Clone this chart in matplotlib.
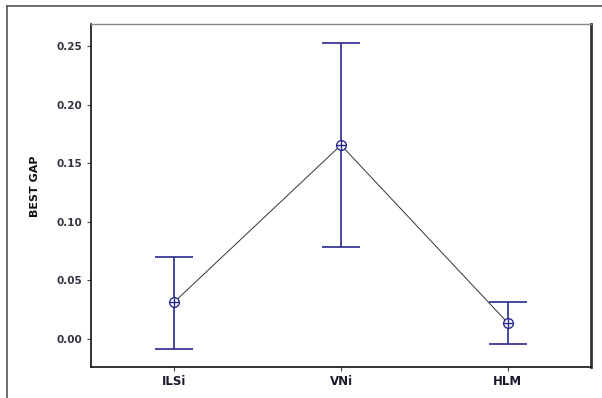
import matplotlib.pyplot as plt
from matplotlib.lines import Line2D
import numpy as np

# data
methods = ['ILSi', 'VNi', 'HLM']
means = [0.0316, 0.1655, 0.0139]
lower = [-0.0088, 0.0785, -0.0043]
upper = [0.0702, 0.2528, 0.0313]

navy = '#2a2a8e'

fig = plt.figure(figsize=(6.02, 3.98), dpi=100)
ax = fig.add_axes([91 / 602, 1 - 367 / 398, 500 / 602, 343 / 398])

x = np.arange(len(methods))
m = np.array(means)
err = [m - np.array(lower), np.array(upper) - m]

# connecting line
ax.plot(x, m, color='#333333', linewidth=0.7, zorder=2)
# interval bars
ax.errorbar(x, m, yerr=err, fmt='none', ecolor=navy, elinewidth=1.2,
            capsize=13.5, capthick=1.2, zorder=3)
# circle-plus markers
ax.plot(x, m, 'o', markersize=7, markerfacecolor='white',
        markeredgecolor=navy, markeredgewidth=1.0, zorder=4)
ax.plot(x, m, '+', markersize=7, color=navy, markeredgewidth=1.0, zorder=5)

ax.set_xlim(-0.5, 2.5)
ax.set_ylim(-0.0239, 0.2688)
ax.set_xticks(x)
ax.set_xticklabels(methods)
ax.set_yticks([0.0, 0.05, 0.10, 0.15, 0.20, 0.25])
ax.set_yticklabels(['0.00', '0.05', '0.10', '0.15', '0.20', '0.25'])

for lbl in ax.get_xticklabels():
    lbl.set_fontweight('bold')
    lbl.set_fontsize(8.5)
for lbl in ax.get_yticklabels():
    lbl.set_fontweight('bold')
    lbl.set_fontsize(7.5)

ax.tick_params(axis='both', direction='out', length=3, width=0.8,
               colors='#444444', pad=3)
ax.tick_params(axis='x', labelcolor='#1a1a2e')
ax.tick_params(axis='y', labelcolor='#333340')

# y axis title
fig.text(35 / 602, 1 - 186 / 398, 'BEST GAP', rotation=90, fontsize=8,
         fontweight='bold', color='#111111', ha='center', va='center')

ax.spines['left'].set_color('#111111')
ax.spines['left'].set_linewidth(1.2)
ax.spines['bottom'].set_color('#111111')
ax.spines['bottom'].set_linewidth(1.2)
ax.spines['top'].set_color('#888888')
ax.spines['top'].set_linewidth(1.0)
ax.spines['right'].set_color('#333333')
ax.spines['right'].set_linewidth(2.0)

# outer frame (top and left edges)
fig.add_artist(Line2D([7 / 602, 1.0], [1 - 6 / 398, 1 - 6 / 398],
                      transform=fig.transFigure, color='#555555', linewidth=1.2))
fig.add_artist(Line2D([7 / 602, 7 / 602], [0.0, 1 - 6 / 398],
                      transform=fig.transFigure, color='#555555', linewidth=1.2))

fig.savefig('out.png', dpi=100)
